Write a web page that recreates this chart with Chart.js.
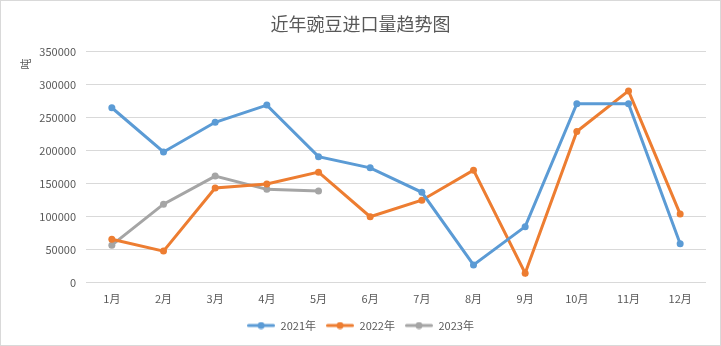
<!DOCTYPE html>
<html>
<head>
<meta charset="utf-8">
<script src="https://cdn.jsdelivr.net/npm/chart.js@4/dist/chart.umd.min.js"></script>
<style>
  html, body { margin: 0; padding: 0; background: #fff; }
  #wrap { width: 721px; height: 346px; box-sizing: border-box; border: 1px solid #d9d9d9; position: relative; }
  canvas { display: block; }
</style>
</head>
<body>
<div id="wrap"><canvas id="peaChart" width="719" height="344"></canvas></div>
<script>
/* ---------- data ---------- */
const months = ['1月','2月','3月','4月','5月','6月','7月','8月','9月','10月','11月','12月'];
const imports2021 = [265000, 198000, 243000, 269000, 191000, 174000, 137000, 27000, 85000, 271000, 271000, 59000];
const imports2022 = [66000, 48000, 143500, 149500, 167500, 100000, 125000, 170500, 14500, 229000, 290500, 104000];
const imports2023 = [57000, 119000, 161500, 141500, 139000];

const FONT = '"Noto Sans CJK SC", "Liberation Sans", sans-serif';
const TXT = '#595959';

// legend marker: line with a dot in the middle
function legendMark(color) {
  const c = document.createElement('canvas');
  c.width = 28; c.height = 8;
  const g = c.getContext('2d');
  g.strokeStyle = color; g.lineWidth = 3; g.lineCap = 'round';
  g.beginPath(); g.moveTo(1.5, 4); g.lineTo(26.5, 4); g.stroke();
  g.fillStyle = color;
  g.beginPath(); g.arc(14, 4, 3.5, 0, Math.PI * 2); g.fill();
  return c;
}

function series(label, data, color) {
  return {
    label, data,
    borderColor: color,
    backgroundColor: color,
    borderWidth: 3,
    pointRadius: 3.5,
    pointHoverRadius: 4,
    pointBorderWidth: 0,
    tension: 0,
    pointStyle: 'circle',
  };
}

const marks = {
  '2021年': legendMark('#5b9bd5'),
  '2022年': legendMark('#ed7d31'),
  '2023年': legendMark('#a5a5a5'),
};

// unit label "吨" near the top of the y axis
const unitLabel = {
  id: 'unitLabel',
  afterDraw(chart) {
    const ctx = chart.ctx;
    ctx.save();
    ctx.translate(25, 63);
    ctx.rotate(-Math.PI / 2);
    ctx.fillStyle = TXT;
    ctx.font = '11px ' + FONT;
    ctx.textAlign = 'center';
    ctx.textBaseline = 'middle';
    ctx.fillText('吨', 0, 0);
    ctx.restore();
  },
};

new Chart(document.getElementById('peaChart'), {
  type: 'line',
  data: {
    labels: months,
    datasets: [
      series('2021年', imports2021, '#5b9bd5'),
      series('2022年', imports2022, '#ed7d31'),
      series('2023年', imports2023, '#a5a5a5'),
    ],
  },
  plugins: [unitLabel],
  options: {
    responsive: false,
    animation: false,
    layout: { padding: { left: 14, right: 14, top: 0, bottom: 4 } },
    plugins: {
      title: {
        display: true,
        text: '近年豌豆进口量趋势图',
        color: TXT,
        font: { family: FONT, size: 18, weight: 'normal' },
        padding: { top: 12, bottom: 17 },
      },
      legend: {
        position: 'bottom',
        labels: {
          color: TXT,
          font: { family: FONT, size: 11 },
          usePointStyle: true,
          pointStyleWidth: 28,
          padding: 10,
          boxHeight: 8,
          generateLabels(chart) {
            return chart.data.datasets.map((ds, i) => ({
              text: ds.label,
              fontColor: TXT,
              pointStyle: marks[ds.label],
              hidden: false,
              datasetIndex: i,
              lineWidth: 0,
            }));
          },
        },
      },
      tooltip: { enabled: false },
    },
    scales: {
      x: {
        offset: true,
        afterFit(scale) { scale.height += 4; },
        grid: { display: false },
        border: { display: false },
        ticks: { color: TXT, font: { family: FONT, size: 11 }, padding: 1 },
      },
      y: {
        min: 0,
        max: 350000,
        afterFit(scale) { scale.width = 71; },
        grid: { color: '#d9d9d9', lineWidth: 1, drawTicks: false },
        border: { display: false },
        ticks: {
          stepSize: 50000,
          color: TXT,
          font: { family: FONT, size: 11 },
          padding: 10,
          callback: v => String(v),
        },
      },
    },
  },
});
</script>
</body>
</html>
